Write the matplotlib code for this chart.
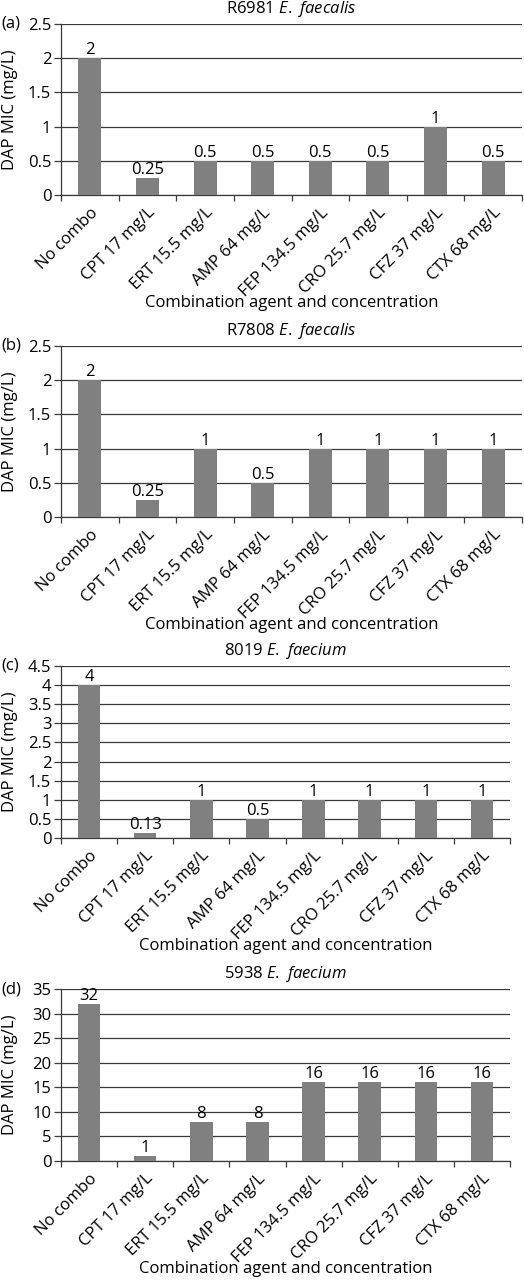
import matplotlib
matplotlib.use("Agg")
import matplotlib.pyplot as plt
import numpy as np

plt.rcParams['font.family'] = ['Open Sans', 'DejaVu Sans']
plt.rcParams['mathtext.fontset'] = 'custom'
plt.rcParams['mathtext.rm'] = 'Open Sans'
plt.rcParams['mathtext.it'] = 'Open Sans:italic'

categories = ["No combo", "CPT 17 mg/L", "ERT 15.5 mg/L", "AMP 64 mg/L",
              "FEP 134.5 mg/L", "CRO 25.7 mg/L", "CFZ 37 mg/L", "CTX 68 mg/L"]

mic_a = [2, 0.25, 0.5, 0.5, 0.5, 0.5, 1, 0.5]
mic_b = [2, 0.25, 1, 0.5, 1, 1, 1, 1]
mic_c = [4, 0.13, 1, 0.5, 1, 1, 1, 1]
mic_d = [32, 1, 8, 8, 16, 16, 16, 16]

labels_a = ["2", "0.25", "0.5", "0.5", "0.5", "0.5", "1", "0.5"]
labels_b = ["2", "0.25", "1", "0.5", "1", "1", "1", "1"]
labels_c = ["4", "0.13", "1", "0.5", "1", "1", "1", "1"]
labels_d = ["32", "1", "8", "8", "16", "16", "16", "16"]

W, H = 524, 1280
FS = 12
BAR = "#808080"
GRID = "#3a3a3a"

fig = plt.figure(figsize=(W / 100, H / 100), dpi=100)


def panel(top, bottom, right, values, labels, ymax, ystep, species, tag, strain):
    left = 61
    hpx = bottom - top
    wpx = right - left
    ax = fig.add_axes([left / W, 1 - bottom / H, wpx / W, hpx / H])
    x = np.arange(len(categories))
    ax.bar(x, values, width=0.4, color=BAR, zorder=3)
    for xi, v, s in zip(x, values, labels):
        ax.annotate(s, (xi, v), xytext=(0, 0), textcoords='offset points',
                    ha='center', va='bottom', fontsize=FS, zorder=4)
    ax.set_xlim(-0.5, len(categories) - 0.5)
    ax.set_ylim(0, ymax)
    yt = np.arange(0, ymax + ystep / 2, ystep)
    ax.set_yticks(yt)
    ax.set_yticklabels([("%g" % t) for t in yt], fontsize=FS)
    ax.yaxis.grid(True, color=GRID, linewidth=0.9, zorder=0)
    ax.set_axisbelow(True)
    ax.set_xticks(x)
    ax.set_xticklabels(categories, rotation=45, ha='right', rotation_mode='anchor', fontsize=FS)
    ax.set_xticks(np.arange(-0.5, len(categories), 1), minor=True)
    ax.tick_params(axis='x', which='major', length=0, pad=7)
    ax.tick_params(axis='x', which='minor', length=4, width=0.9, color=GRID)
    ax.tick_params(axis='y', length=5, width=0.9, color=GRID, pad=2)
    for sp in ['top', 'right']:
        ax.spines[sp].set_visible(False)
    for sp in ['left', 'bottom']:
        ax.spines[sp].set_color(GRID)
        ax.spines[sp].set_linewidth(0.9)
    ax.set_ylabel("DAP MIC (mg/L)", fontsize=FS, va='center')
    ax.yaxis.set_label_coords((10 - left) / wpx, 0.5)
    ax.set_xlabel("Combination agent and concentration", fontsize=FS, va='center')
    ax.xaxis.set_label_coords(0.5, -108 / hpx)
    ax.set_title(strain + " $\\it{" + species.replace(" ", "\\ ") + "}$", fontsize=FS, pad=8)
    fig.text(1 / W, 1 - top / H, tag, fontsize=FS, va='center', ha='left')
    return ax


panel(24, 195, 522, mic_a, labels_a, 2.5, 0.5, "E. faecalis", "(a)", "R6981")
panel(346, 517, 522, mic_b, labels_b, 2.5, 0.5, "E. faecalis", "(b)", "R7808")
panel(666, 838, 510, mic_c, labels_c, 4.5, 0.5, "E. faecium", "(c)", "8019")
panel(989, 1161, 510, mic_d, labels_d, 35, 5, "E. faecium", "(d)", "5938")

fig.savefig("out.png", dpi=100)
